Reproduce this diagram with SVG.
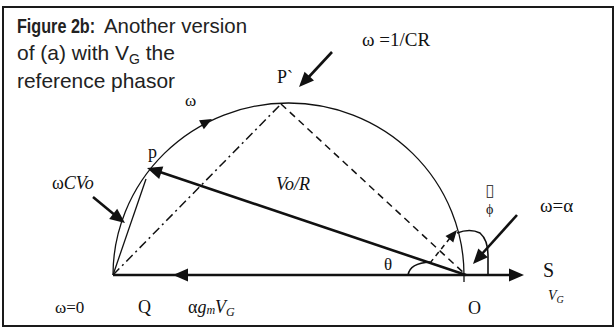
<svg xmlns="http://www.w3.org/2000/svg" width="615" height="329" viewBox="0 0 615 329">
<style>
.frame{fill:none;stroke:#1a1a1a;stroke-width:2}
.thin{fill:none;stroke:#111;stroke-width:1.3}
.thick{fill:none;stroke:#111;stroke-width:2.6}
.dash{fill:none;stroke:#111;stroke-width:1.5;stroke-dasharray:7 5}
.dashdot{fill:none;stroke:#111;stroke-width:1.5;stroke-dasharray:9 4 2 4}
.ah{fill:#111}
.t{font-family:"Liberation Serif","DejaVu Serif",serif;fill:#111}
.it{font-style:italic}
.title{font-family:"Liberation Sans","Arial",sans-serif;fill:#222;font-size:21px}
.bold{font-weight:bold}
</style>
<defs>
<path id="ah" d="M0,0 L-15,-6.5 L-15,6.5 Z"/>
<path id="ahs" d="M0,0 L-12,-5 L-12,5 Z"/>
</defs>
<rect class="frame" x="3" y="7" width="610" height="319"/>

<g id="title">
<text class="title bold" x="0" y="0" transform="translate(17,33) scale(0.77,1)">Figure 2b:</text>
<text class="title" x="104" y="33" textLength="143" lengthAdjust="spacingAndGlyphs">Another version</text>
<text class="title" x="17" y="60">of (a) with V<tspan font-size="14" dy="4">G</tspan><tspan dy="-4"> the</tspan></text>
<text class="title" x="17" y="88" textLength="158" lengthAdjust="spacingAndGlyphs">reference phasor</text>
</g>

<g id="connectors">
<!-- semi-ellipse -->
<path class="thin" d="M113,275 A175.5,172 0 0 1 464,275 L464,282"/>
<!-- chord Q to p -->
<path class="thin" d="M113,275 L146,179"/>
<!-- dash-dot Q to P' -->
<path class="dashdot" d="M113,275 L281,104"/>
<!-- dashed P' to O -->
<path class="dash" d="M281,104 L466,275"/>
<!-- baseline -->
<path class="thick" d="M113,275 L512,275"/>
<!-- Vo/R -->
<path class="thick" d="M466,275 L160,172"/>
<!-- small dashed arrow -->
<path class="dash" style="stroke-dasharray:5 4" d="M430,263 L450,238"/>
<!-- phi arc -->
<path class="thin" style="stroke-width:1.6" d="M457,233 Q470,228 480,233 Q488,240 488,255 L488,275"/>
<!-- theta arc -->
<path class="thin" style="stroke-width:1.6" d="M408,275 Q410,263 430,262"/>
<!-- pointer arrows -->
<path class="thick" d="M332,52 L306,80"/>
<path class="thick" d="M93,197 L116,216"/>
<path class="thick" d="M517,215 L481,255"/>
<!-- arrowheads -->
<use href="#ah" class="ah" transform="translate(147,168) rotate(198.5)"/>
<use href="#ah" class="ah" transform="translate(173,275) rotate(180)"/>
<use href="#ah" class="ah" transform="translate(524,275)"/>
<use href="#ahs" class="ah" transform="translate(212,119) rotate(-28.6)"/>
<use href="#ah" class="ah" transform="translate(299,87) rotate(133.3)"/>
<use href="#ah" class="ah" transform="translate(125,223) rotate(38)"/>
<use href="#ah" class="ah" transform="translate(473,264) rotate(132.5)"/>
<use href="#ahs" class="ah" transform="translate(457,230) rotate(-50.7)"/>
</g>

<g id="labels">
<text class="t" x="362" y="46" font-size="19">ω =1/CR</text>
<text class="t" x="277" y="83" font-size="18">P`</text>
<text class="t" x="185" y="106" font-size="17">ω</text>
<text class="t" x="148" y="158" font-size="18">p</text>
<text class="t" x="52" y="189" font-size="18">ω<tspan class="it">CVo</tspan></text>
<text class="t it" x="276" y="190" font-size="18">Vo/R</text>
<text class="t" x="384" y="270" font-size="17">θ</text>
<text x="485" y="196" font-family="DejaVu Sans,sans-serif" font-size="17" fill="#444">▯</text>
<text class="t" x="486" y="214" font-size="14" fill="#111">ϕ</text>
<text class="t" x="540" y="212" font-size="19">ω=α</text>
<text class="t" x="543" y="277" font-size="20">S</text>
<text class="t it" x="548" y="300" font-size="14">V<tspan font-size="10" dy="3">G</tspan></text>
<text class="t" x="468" y="314" font-size="18">O</text>
<text class="t" x="55" y="313" font-size="17">ω=0</text>
<text class="t" x="138" y="313" font-size="18">Q</text>
<text class="t" x="188" y="313" font-size="18">α<tspan class="it">g</tspan><tspan class="it" font-size="12" dy="1">m</tspan><tspan class="it" dy="-1">V</tspan><tspan class="it" font-size="12" dy="3">G</tspan></text>
</g>
</svg>
